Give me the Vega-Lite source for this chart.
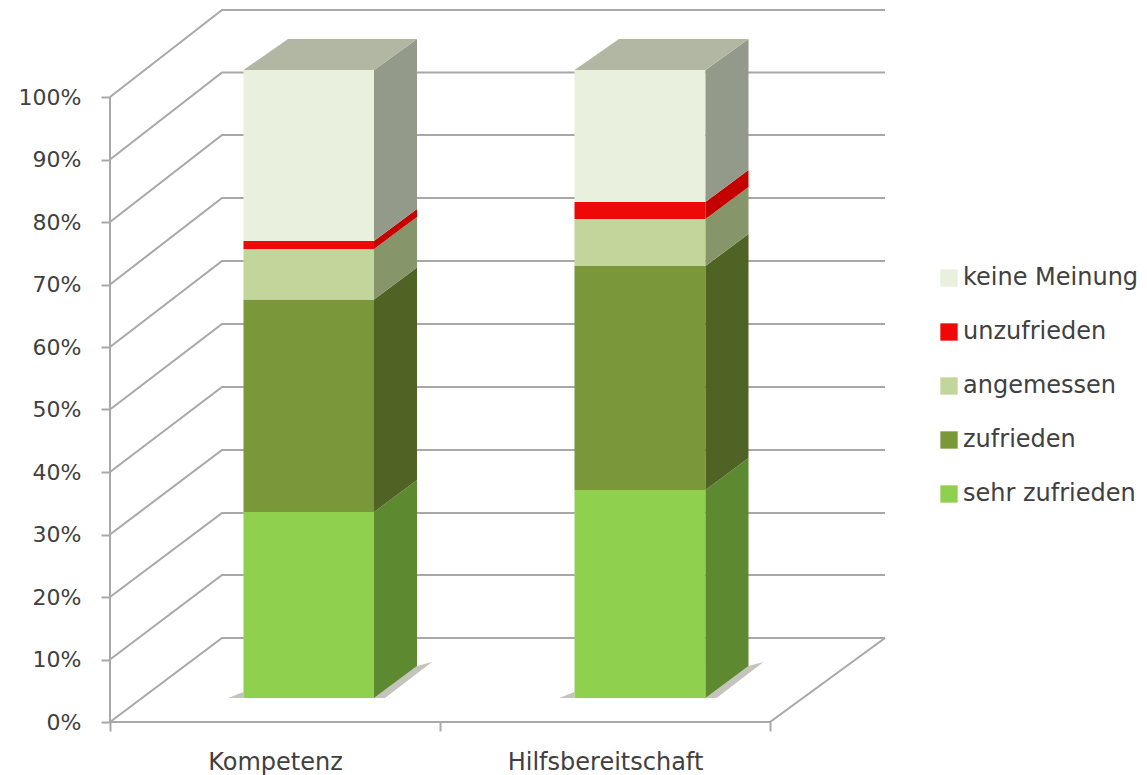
{"$schema":"https://vega.github.io/schema/vega-lite/v6.json","width":1147,"height":775,"padding":0,"autosize":{"type":"none"},"background":"#ffffff","config":{"view":{"stroke":null},"font":"DejaVu Sans"},
"datasets":{
"walls":[
{"line":"w0","x":0,"y":0},{"line":"w0","x":0.3394,"y":13.44},{"line":"w0","x":2.3485,"y":13.44},
{"line":"w10","x":0,"y":10},{"line":"w10","x":0.3394,"y":23.52},{"line":"w10","x":2.3485,"y":23.52},
{"line":"w20","x":0,"y":20},{"line":"w20","x":0.3394,"y":33.44},{"line":"w20","x":2.3485,"y":33.44},
{"line":"w30","x":0,"y":30},{"line":"w30","x":0.3394,"y":43.52},{"line":"w30","x":2.3485,"y":43.52},
{"line":"w40","x":0,"y":40},{"line":"w40","x":0.3394,"y":53.6},{"line":"w40","x":2.3485,"y":53.6},
{"line":"w50","x":0,"y":50},{"line":"w50","x":0.3394,"y":63.68},{"line":"w50","x":2.3485,"y":63.68},
{"line":"w60","x":0,"y":60},{"line":"w60","x":0.3394,"y":73.76},{"line":"w60","x":2.3485,"y":73.76},
{"line":"w70","x":0,"y":70},{"line":"w70","x":0.3394,"y":83.84},{"line":"w70","x":2.3485,"y":83.84},
{"line":"w80","x":0,"y":80},{"line":"w80","x":0.3394,"y":93.92},{"line":"w80","x":2.3485,"y":93.92},
{"line":"w90","x":0,"y":90},{"line":"w90","x":0.3394,"y":103.92},{"line":"w90","x":2.3485,"y":103.92},
{"line":"w100","x":0,"y":100},{"line":"w100","x":0.3394,"y":113.92},{"line":"w100","x":2.3485,"y":113.92},
{"line":"floor","x":0,"y":0},{"line":"floor","x":2,"y":0},{"line":"floor","x":2.3485,"y":13.44},
{"line":"axis","x":0,"y":0},{"line":"axis","x":0,"y":100}
],
"shadows":[
{"id":"a","x":0.3576,"low":3.84,"high":3.84},{"id":"a","x":0.4045,"low":3.84,"high":4.8},
{"id":"b","x":0.8,"low":3.84,"high":3.84},{"id":"b","x":0.8333,"low":3.84,"high":5.18},{"id":"b","x":0.9303,"low":7.76,"high":8.96},{"id":"b","x":0.9758,"low":9.6,"high":9.6},
{"id":"c","x":1.3606,"low":3.84,"high":3.84},{"id":"c","x":1.4076,"low":3.84,"high":4.8},
{"id":"d","x":1.8045,"low":3.84,"high":3.84},{"id":"d","x":1.8378,"low":3.84,"high":5.18},{"id":"d","x":1.9348,"low":7.76,"high":8.96},{"id":"d","x":1.9803,"low":9.6,"high":9.6}
],
"faces":[
{"kategorie":"Kompetenz","segment":"sehr zufrieden","x0":0.4045,"x1":0.8,"low":3.84,"high":33.6},
{"kategorie":"Kompetenz","segment":"zufrieden","x0":0.4045,"x1":0.8,"low":33.6,"high":67.6},
{"kategorie":"Kompetenz","segment":"angemessen","x0":0.4045,"x1":0.8,"low":67.6,"high":75.68},
{"kategorie":"Kompetenz","segment":"unzufrieden","x0":0.4045,"x1":0.8,"low":75.68,"high":76.96},
{"kategorie":"Kompetenz","segment":"keine Meinung","x0":0.4045,"x1":0.8,"low":76.96,"high":104.32},
{"kategorie":"Hilfsbereitschaft","segment":"sehr zufrieden","x0":1.4076,"x1":1.8045,"low":3.84,"high":37.12},
{"kategorie":"Hilfsbereitschaft","segment":"zufrieden","x0":1.4076,"x1":1.8045,"low":37.12,"high":72.96},
{"kategorie":"Hilfsbereitschaft","segment":"angemessen","x0":1.4076,"x1":1.8045,"low":72.96,"high":80.48},
{"kategorie":"Hilfsbereitschaft","segment":"unzufrieden","x0":1.4076,"x1":1.8045,"low":80.48,"high":83.2},
{"kategorie":"Hilfsbereitschaft","segment":"keine Meinung","x0":1.4076,"x1":1.8045,"low":83.2,"high":104.32}
],
"sides":[
{"kategorie":"Kompetenz","segment":"sehr zufrieden","x":0.8,"low":3.84,"high":33.6},{"kategorie":"Kompetenz","segment":"sehr zufrieden","x":0.9303,"low":8.96,"high":38.72},
{"kategorie":"Kompetenz","segment":"zufrieden","x":0.8,"low":33.6,"high":67.6},{"kategorie":"Kompetenz","segment":"zufrieden","x":0.9303,"low":38.72,"high":72.72},
{"kategorie":"Kompetenz","segment":"angemessen","x":0.8,"low":67.6,"high":75.68},{"kategorie":"Kompetenz","segment":"angemessen","x":0.9303,"low":72.72,"high":80.8},
{"kategorie":"Kompetenz","segment":"unzufrieden","x":0.8,"low":75.68,"high":76.96},{"kategorie":"Kompetenz","segment":"unzufrieden","x":0.9303,"low":80.8,"high":82.08},
{"kategorie":"Kompetenz","segment":"keine Meinung","x":0.8,"low":76.96,"high":104.32},{"kategorie":"Kompetenz","segment":"keine Meinung","x":0.9303,"low":82.08,"high":109.28},
{"kategorie":"Kompetenz","segment":"oben","x":0.4045,"low":104.32,"high":104.32},{"kategorie":"Kompetenz","segment":"oben","x":0.5394,"low":104.32,"high":109.28},{"kategorie":"Kompetenz","segment":"oben","x":0.8,"low":104.32,"high":109.28},{"kategorie":"Kompetenz","segment":"oben","x":0.9303,"low":109.28,"high":109.28},
{"kategorie":"Hilfsbereitschaft","segment":"sehr zufrieden","x":1.8045,"low":3.84,"high":37.12},{"kategorie":"Hilfsbereitschaft","segment":"sehr zufrieden","x":1.9348,"low":8.96,"high":42.24},
{"kategorie":"Hilfsbereitschaft","segment":"zufrieden","x":1.8045,"low":37.12,"high":72.96},{"kategorie":"Hilfsbereitschaft","segment":"zufrieden","x":1.9348,"low":42.24,"high":78.08},
{"kategorie":"Hilfsbereitschaft","segment":"angemessen","x":1.8045,"low":72.96,"high":80.48},{"kategorie":"Hilfsbereitschaft","segment":"angemessen","x":1.9348,"low":78.08,"high":85.6},
{"kategorie":"Hilfsbereitschaft","segment":"unzufrieden","x":1.8045,"low":80.48,"high":83.2},{"kategorie":"Hilfsbereitschaft","segment":"unzufrieden","x":1.9348,"low":85.6,"high":88.32},
{"kategorie":"Hilfsbereitschaft","segment":"keine Meinung","x":1.8045,"low":83.2,"high":104.32},{"kategorie":"Hilfsbereitschaft","segment":"keine Meinung","x":1.9348,"low":88.32,"high":109.28},
{"kategorie":"Hilfsbereitschaft","segment":"oben","x":1.4076,"low":104.32,"high":104.32},{"kategorie":"Hilfsbereitschaft","segment":"oben","x":1.5424,"low":104.32,"high":109.28},{"kategorie":"Hilfsbereitschaft","segment":"oben","x":1.8045,"low":104.32,"high":109.28},{"kategorie":"Hilfsbereitschaft","segment":"oben","x":1.9348,"low":109.28,"high":109.28}
]},
"layer":[
{"data":{"name":"walls"},"mark":{"type":"line","color":"#a8a8a8","strokeWidth":2,"interpolate":"linear"},"encoding":{
"x":{"field":"x","type":"quantitative","sort":null,"scale":{"domain":[-0.33333,3.14242],"nice":false,"zero":false},"axis":{"values":[0,0.5,1,1.5,2],"title":null,"orient":"bottom","offset":-53,"grid":false,"domain":false,"tickColor":"#a8a8a8","tickWidth":2,"tickSize":9,"tickOpacity":{"condition":{"test":"datum.value==0.5||datum.value==1.5","value":0},"value":1},"labelExpr":"datum.value==0.5?'Kompetenz':datum.value==1.5?'Hilfsbereitschaft':''","labelFont":"DejaVu Sans","labelFontSize":24,"labelColor":"#404040","labelPadding":19,"labelOverlap":false,"labelFlush":false,"labelLimit":400}},
"y":{"field":"y","type":"quantitative","scale":{"domain":[-8.48,115.52],"nice":false,"zero":false},"axis":{"values":[0,10,20,30,40,50,60,70,80,90,100],"title":null,"orient":"left","offset":-110,"grid":false,"domain":false,"tickColor":"#a8a8a8","tickWidth":2,"tickSize":9,"labelExpr":"datum.value+'%'","labelFont":"DejaVu Sans","labelFontSize":22,"labelColor":"#404040","labelPadding":20,"labelOverlap":false,"labelFlush":false}},
"detail":{"field":"line"},"order":{"field":"x"}}},
{"data":{"name":"shadows"},"mark":{"type":"area","color":"#c4c4bc","interpolate":"linear"},"encoding":{"x":{"field":"x","type":"quantitative"},"y":{"field":"low","type":"quantitative","stack":null},"y2":{"field":"high"},"detail":{"field":"id"}}},
{"data":{"name":"faces"},"mark":{"type":"rect"},"encoding":{
"x":{"field":"x0","type":"quantitative"},
"x2":{"field":"x1"},
"y":{"field":"low","type":"quantitative"},
"y2":{"field":"high"},
"color":{"field":"segment","type":"nominal","scale":{"domain":["keine Meinung","unzufrieden","angemessen","zufrieden","sehr zufrieden"],"range":["#eaf0de","#ee0808","#c2d59b","#7a973a","#8fd14f"]},"sort":null,"legend":{"title":null,"orient":"none","legendX":937,"legendY":266,"symbolType":"square","symbolSize":300,"symbolStrokeWidth":0,"labelFont":"DejaVu Sans","labelFontSize":24,"labelColor":"#404040","labelOffset":2,"rowPadding":30,"labelLimit":220}}}},
{"data":{"name":"sides"},"mark":{"type":"area","interpolate":"linear"},"encoding":{"x":{"field":"x","type":"quantitative"},"y":{"field":"low","type":"quantitative","stack":null},"y2":{"field":"high"},"detail":{"field":"kategorie"},"color":{"field":"segment","type":"nominal","legend":null,"scale":{"domain":["keine Meinung","unzufrieden","angemessen","zufrieden","sehr zufrieden","oben"],"range":["#949a8a","#c40000","#87956a","#4f6325","#5d8a30","#b2b7a3"]}}}}
],
"resolve":{"scale":{"color":"independent"}}}
